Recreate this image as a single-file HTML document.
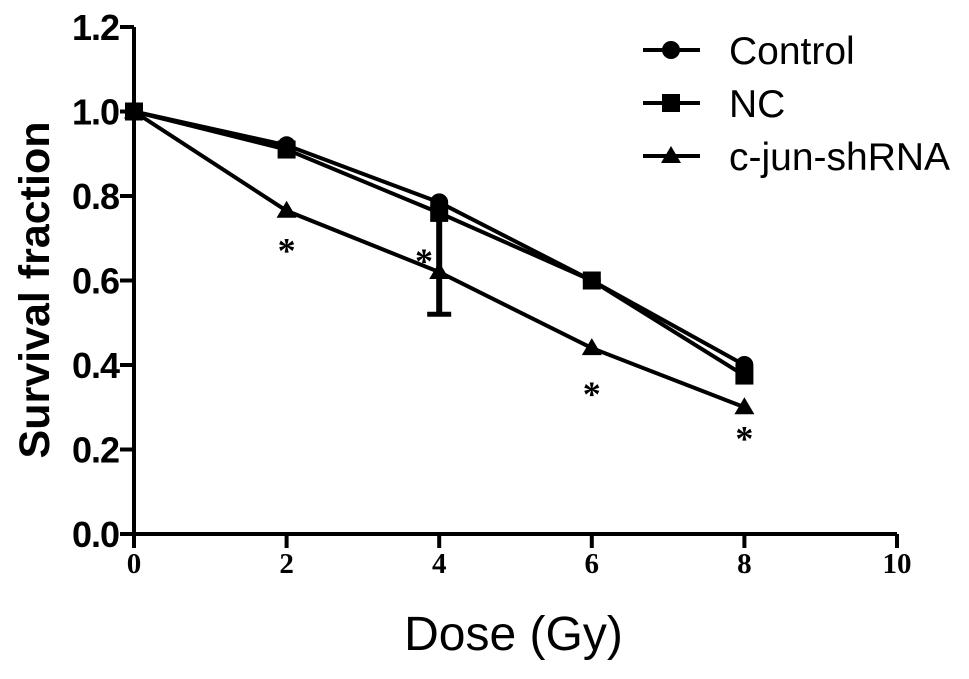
<!DOCTYPE html>
<html><head><meta charset="utf-8"><style>
html,body{margin:0;padding:0;background:#fff;}
svg{display:block;}
</style></head><body>
<svg id="chart" width="969" height="679" xmlns="http://www.w3.org/2000/svg">
<g id="axes"></g>
<g id="series"></g>
<g id="legend"></g>
</svg>
<script>
const doses = [0, 2, 4, 6, 8];
const controlValues = [1.0, 0.92, 0.785, 0.60, 0.40];
const ncValues = [1.0, 0.91, 0.76, 0.60, 0.375];
const shrnaValues = [1.0, 0.765, 0.62, 0.44, 0.30];
const errorDose = [4];
const errorLow = [0.52];
const errorHigh = [0.74];
const starDoses = [2, 3.8, 6, 8];
const starValues = [0.69, 0.665, 0.35, 0.245];
const xTicks = [0, 2, 4, 6, 8, 10];
const yTicks = [0.0, 0.2, 0.4, 0.6, 0.8, 1.0, 1.2];
const yTickLabels = ["0.0","0.2","0.4","0.6","0.8","1.0","1.2"];
const seriesNames = ["Control", "NC", "c-jun-shRNA"];

const NS = "http://www.w3.org/2000/svg";
const X0 = 134, XPX = 76.3, Y0 = 534, YPX = 422.5;
function sx(v){ return X0 + v * XPX; }
function sy(v){ return Y0 - v * YPX; }
function mk(tag, attrs, parent){
  const e = document.createElementNS(NS, tag);
  for (const k in attrs) e.setAttribute(k, attrs[k]);
  parent.appendChild(e);
  return e;
}
const axes = document.getElementById('axes');
const series = document.getElementById('series');
const legend = document.getElementById('legend');

let yl = mk('line', {x1:X0, y1:sy(1.2), x2:X0, y2:Y0, stroke:'#000', 'stroke-width':4}, axes);


let xl = mk('line', {x1:X0 - 14, y1:Y0, x2:sx(10), y2:Y0, stroke:'#000', 'stroke-width':4}, axes);



yTicks.forEach((v, i) => {
  const t = mk('line', {x1:X0 - 14, y1:sy(v), x2:X0, y2:sy(v), stroke:'#000', 'stroke-width':4}, axes);
  
  
  const lb = mk('text', {x:X0 - 15, y:sy(v) + 13, 'text-anchor':'end', 'font-family':'Liberation Sans, sans-serif', 'font-weight':'bold', 'font-size':36, 'letter-spacing':-1}, axes);
  lb.textContent = yTickLabels[i];
  
  
});
xTicks.forEach(v => {
  const t = mk('line', {x1:sx(v), y1:Y0, x2:sx(v), y2:Y0 + 14, stroke:'#000', 'stroke-width':4}, axes);
  
  
  const lb = mk('text', {x:sx(v), y:Y0 + 39, 'text-anchor':'middle', 'font-family':'Liberation Serif, serif', 'font-weight':'bold', 'font-size':29}, axes);
  lb.textContent = String(v);
  
  
});
let xt = mk('text', {x:sx(5) - 2, y:650, 'text-anchor':'middle', 'font-family':'Liberation Sans, sans-serif', 'font-size':48}, axes);
xt.textContent = 'Dose (Gy)';


let yt = mk('text', {x:0, y:0, transform:'translate(49,290) rotate(-90)', 'text-anchor':'middle', 'font-family':'Liberation Sans, sans-serif', 'font-weight':'bold', 'font-size':43}, axes);
yt.textContent = 'Survival fraction';



function marker(kind, x, y, parent){
  let m;
  if (kind === 0) m = mk('circle', {cx:x, cy:y, r:9, fill:'#000'}, parent);
  else if (kind === 1) m = mk('rect', {x:x - 9, y:y - 9, width:18, height:18, fill:'#000'}, parent);
  else m = mk('polygon', {points:`${x},${y - 10} ${x + 10},${y + 7} ${x - 10},${y + 7}`, fill:'#000'}, parent);
  return m;
}
const allSeries = [controlValues, ncValues, shrnaValues];
allSeries.forEach((vals, si) => {
  const pts = doses.map((d, i) => sx(d) + ',' + sy(vals[i])).join(' ');
  const pl = mk('polyline', {points:pts, fill:'none', stroke:'#000', 'stroke-width':4}, series);
  
  
});
errorDose.forEach((d, i) => {
  const e = mk('line', {x1:sx(d), y1:sy(errorHigh[i]), x2:sx(d), y2:sy(errorLow[i]), stroke:'#000', 'stroke-width':6}, series);
  
  
  const c = mk('line', {x1:sx(d) - 12, y1:sy(errorLow[i]), x2:sx(d) + 12, y2:sy(errorLow[i]), stroke:'#000', 'stroke-width':5}, series);
  
  
});
allSeries.forEach((vals, si) => {
  doses.forEach((d, i) => {
    const m = marker(si, sx(d), sy(vals[i]), series);
    
    
  });
});
starDoses.forEach((d, i) => {
  const s = mk('text', {x:sx(d), y:sy(starValues[i]) + 20, 'text-anchor':'middle', 'font-family':'Liberation Serif, serif', 'font-weight':'bold', 'font-size':36}, series);
  s.textContent = '*';
  
  
});
const legY = [50, 103, 156];
seriesNames.forEach((n, i) => {
  const g = mk('g', {}, legend);
  
  
  mk('line', {x1:643, y1:legY[i], x2:700, y2:legY[i], stroke:'#000', 'stroke-width':4}, g);
  marker(i, 671, legY[i], g);
  const t = mk('text', {x:729, y:legY[i] + 14, 'font-family':'Liberation Sans, sans-serif', 'font-size':39}, g);
  t.textContent = n;
});
</script>
</body></html>
